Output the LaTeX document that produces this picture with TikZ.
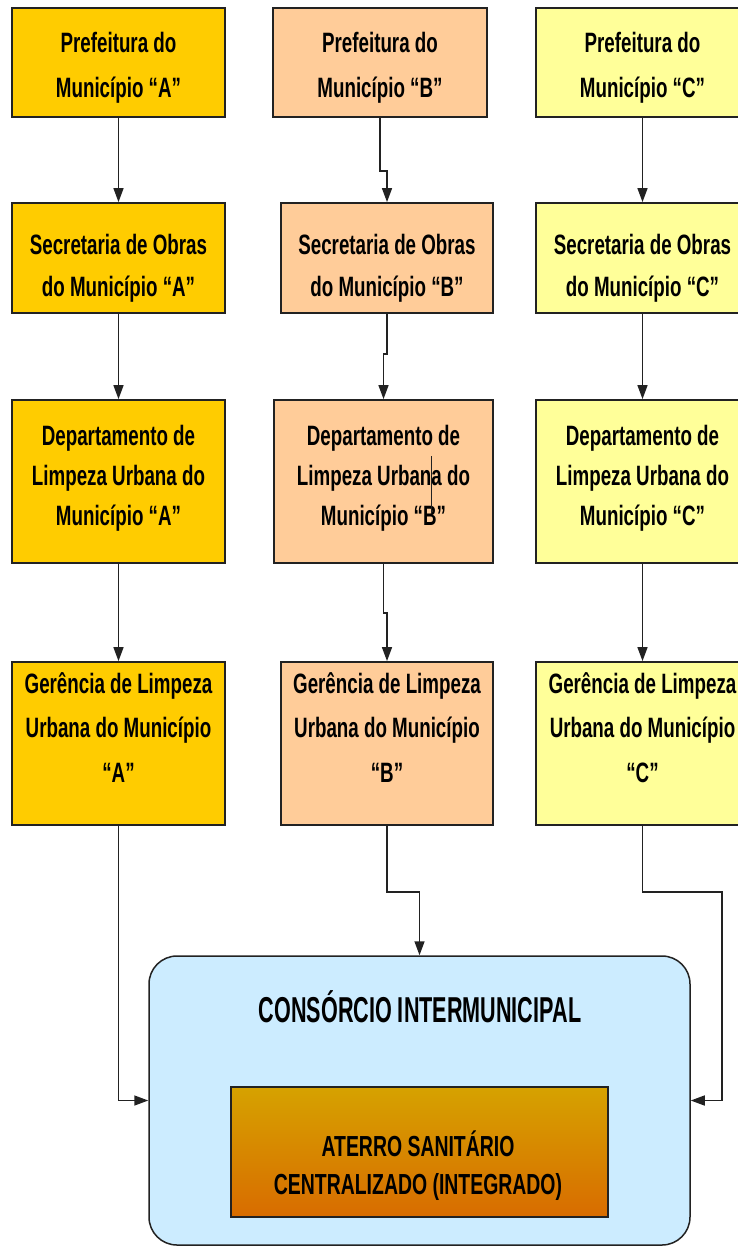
\documentclass[tikz,border=0pt]{standalone}
\usepackage{xcolor}
\usepackage{fontspec}
\usepackage{tikz}
\usetikzlibrary{positioning,arrows.meta}
\newfontfamily\boxfont{Liberation Sans}[FakeStretch=0.67]
\newfontfamily\titlefont{Liberation Sans}[FakeStretch=0.6]
\definecolor{corA}{HTML}{FFCC00}
\definecolor{corB}{HTML}{FFCC99}
\definecolor{corC}{HTML}{FFFF99}
\definecolor{corConsorcio}{HTML}{CCECFF}
\definecolor{aterroTopo}{HTML}{D6A200}
\definecolor{aterroBase}{HTML}{D86C00}
\definecolor{borda}{HTML}{222222}
\tikzset{
	orgbox/.style={rectangle, draw=borda, line width=1.8pt, inner sep=0pt},
	orgtxt/.style={align=center, inner sep=0pt, text=black},
	nivel1/.style={orgbox, minimum height=109pt},
	nivel2/.style={orgbox, minimum height=110pt},
	nivel3/.style={orgbox, minimum height=163pt},
	nivel4/.style={orgbox, minimum height=163pt},
	txt1/.style={orgtxt, yshift=-5pt, font=\boxfont\bfseries\fontsize{28}{45}\selectfont},
	txt2/.style={orgtxt, yshift=-10pt, font=\boxfont\bfseries\fontsize{28}{42}\selectfont},
	txt3/.style={orgtxt, yshift=3pt, font=\boxfont\bfseries\fontsize{28}{40}\selectfont},
	txt4/.style={orgtxt, yshift=16pt, font=\boxfont\bfseries\fontsize{28}{44.5}\selectfont},
	liga/.style={draw=borda, line width=1.5pt, -{Triangle[length=14pt,width=10pt]}},
}

\begin{document}
\begin{tikzpicture}[x=1pt,y=-1pt]
	\useasboundingbox (0,0) rectangle (738,1247);
	\clip (0,0) rectangle (738,1247);
	% municipio A
	\node[nivel1, fill=corA, minimum width=213pt, label={[txt1]center:Prefeitura do\\Município “A”}] (A1) at (118.5,62.5) {};
	\node[nivel2, fill=corA, minimum width=213pt, label={[txt2]center:Secretaria de Obras\\do Município “A”}] (A2) at (118.5,258) {};
	\node[nivel3, fill=corA, minimum width=213pt, label={[txt3]center:Departamento de\\Limpeza Urbana do\\Município “A”}] (A3) at (118.5,481.5) {};
	\node[nivel4, fill=corA, minimum width=213pt, label={[txt4]center:Gerência de Limpeza\\Urbana do Município\\“A”}] (A4) at (118.5,743.5) {};
	% municipio B
	\node[nivel1, fill=corB, minimum width=214pt, label={[txt1]center:Prefeitura do\\Município “B”}] (B1) at (380,62.5) {};
	\node[nivel2, fill=corB, minimum width=212pt, label={[txt2]center:Secretaria de Obras\\do Município “B”}] (B2) at (387,258) {};
	\node[nivel3, fill=corB, minimum width=219pt, label={[txt3]center:Departamento de\\Limpeza Urbana do\\Município “B”}] (B3) at (383.5,481.5) {};
	\node[nivel4, fill=corB, minimum width=212pt, label={[txt4]center:Gerência de Limpeza\\Urbana do Município\\“B”}] (B4) at (387,743.5) {};
	% municipio C
	\node[nivel1, fill=corC, minimum width=213pt, label={[txt1]center:Prefeitura do\\Município “C”}] (C1) at (642.5,62.5) {};
	\node[nivel2, fill=corC, minimum width=213pt, label={[txt2]center:Secretaria de Obras\\do Município “C”}] (C2) at (642.5,258) {};
	\node[nivel3, fill=corC, minimum width=213pt, label={[txt3]center:Departamento de\\Limpeza Urbana do\\Município “C”}] (C3) at (642.5,481.5) {};
	\node[nivel4, fill=corC, minimum width=213pt, label={[txt4]center:Gerência de Limpeza\\Urbana do Município\\“C”}] (C4) at (642.5,743.5) {};
	% consorcio
	\node[rectangle, rounded corners=28pt, draw=borda, line width=1.5pt, fill=corConsorcio,
		minimum width=541pt, minimum height=289pt, inner sep=0pt] (consorcio) at (419.5,1100.5) {};
	\node[font=\titlefont\bfseries\fontsize{36}{40}\selectfont, inner sep=0pt] (titulo) at (420,1007) {CONSÓRCIO INTERMUNICIPAL};
	\node[rectangle, draw=borda, line width=1.8pt, top color=aterroTopo, bottom color=aterroBase,
		minimum width=377pt, minimum height=130pt, inner sep=0pt] (aterro) at (419.5,1152) {};
	\node[align=center, inner sep=0pt, font=\boxfont\bfseries\fontsize{29}{38}\selectfont] (aterrotxt) at (418,1166) {ATERRO SANITÁRIO\\CENTRALIZADO (INTEGRADO)};
	\draw[draw=borda, line width=0.8pt] (431,456) -- (431,513);
	% ligacoes
	\draw[liga] (A1) -- (A2);
	\draw[liga] (A2) -- (A3);
	\draw[liga] (A3) -- (A4);
	\draw[liga] (A4.south) |- (consorcio.west);
	\draw[liga] (B1.south) -- ++(0,53) -| (B2.north);
	\draw[liga] (B2.south) -- ++(0,40) -| (B3.north);
	\draw[liga] (B3.south) -- ++(0,49) -| (B4.north);
	\draw[liga] (B4.south) -- ++(0,66) -| (consorcio.north);
	\draw[liga] (C1) -- (C2);
	\draw[liga] (C2) -- (C3);
	\draw[liga] (C3) -- (C4);
	\draw[liga] (C4.south) -- ++(0,66) -- ++(79.5,0) |- (consorcio.east);
\end{tikzpicture}
\end{document}
